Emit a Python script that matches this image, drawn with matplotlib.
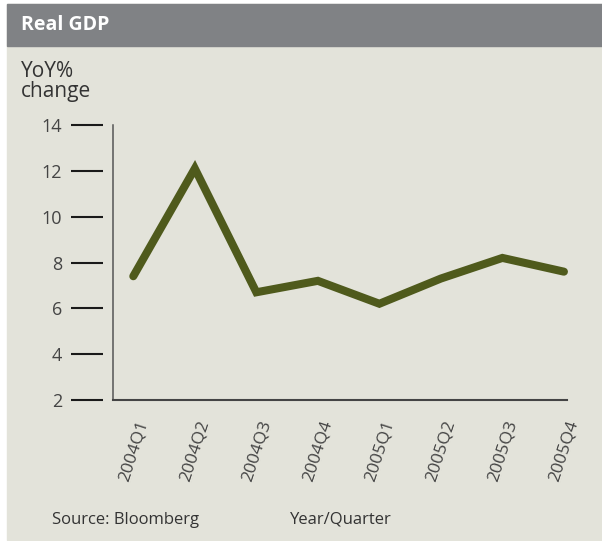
import matplotlib
matplotlib.use('Agg')
import matplotlib.pyplot as plt
from matplotlib.patches import Rectangle

# Real GDP, year-on-year % change
quarters = ['2004Q1', '2004Q2', '2004Q3', '2004Q4',
            '2005Q1', '2005Q2', '2005Q3', '2005Q4']
gdp_yoy = [7.4, 12.1, 6.7, 7.2, 6.2, 7.3, 8.2, 7.6]
yticks = [2, 4, 6, 8, 10, 12, 14]

W, H = 602, 541
plt.rcParams['font.family'] = ['Open Sans', 'DejaVu Sans']

fig = plt.figure(figsize=(W / 100, H / 100), dpi=100, facecolor='white')

# background panel and header bar (pixel coords, origin top-left)
def px_rect(x0, y0, x1, y1, color):
    fig.patches.append(Rectangle((x0 / W, 1 - y1 / H), (x1 - x0) / W, (y1 - y0) / H,
                                 transform=fig.transFigure, color=color, zorder=-10))

px_rect(7, 4, W, 540, '#e3e3da')
px_rect(7, 4, W, 46, '#808285')

fig.text(21 / W, 1 - 25 / H, 'Real GDP', color='white', fontsize=14,
         fontweight='bold', va='center', ha='left')
fig.text(21 / W, 1 - 61 / H, 'YoY%\nchange', color='#333333', fontsize=15,
         va='top', ha='left', linespacing=0.95)
fig.text(52 / W, 1 - 520 / H, 'Source: Bloomberg', color='#333333', fontsize=12,
         va='center', ha='left')
fig.text(290 / W, 1 - 520 / H, 'Year/Quarter', color='#333333', fontsize=12,
         va='center', ha='left')

ax = fig.add_axes([113 / W, 1 - 400 / H, (567 - 113) / W, (400 - 125) / H])
ax.set_facecolor('none')
ax.set_zorder(5)

x = list(range(len(quarters)))
ax.plot(x, gdp_yoy, color='#4f5a1c', lw=5.8, solid_capstyle='round',
        solid_joinstyle='miter', clip_on=False)

ax.set_xlim(-0.33, 7.05)
ax.set_ylim(2, 14)
ax.set_yticks(yticks)
ax.set_xticks(x)
ax.set_xticklabels(quarters, rotation=72, ha='center', va='top')

for s in ['top', 'right']:
    ax.spines[s].set_visible(False)
ax.spines['left'].set_position(('outward', 7.2))
ax.spines['left'].set_visible(False)
ax.spines['bottom'].set_color('#444444')
ax.spines['bottom'].set_linewidth(1.5)
ax.axvline(-0.33, color='#555555', lw=1.1, clip_on=False)

ax.tick_params(axis='y', direction='out', length=23, width=1.5, color='#1a1a1a',
               pad=6.5, labelsize=13, labelcolor='#444444')
ax.tick_params(axis='x', length=0, pad=13, labelsize=12.5, labelcolor='#444444')

fig.savefig('out.png', dpi=100, facecolor=fig.get_facecolor())
